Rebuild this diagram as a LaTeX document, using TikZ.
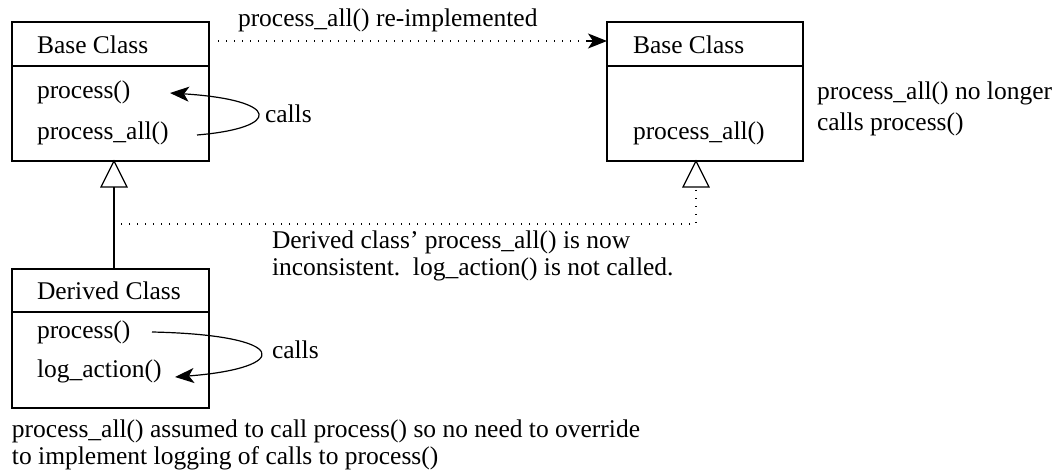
\documentclass[tikz,border=0pt]{standalone}
\usepackage{fontspec}
\setmainfont{Liberation Serif}
\usetikzlibrary{arrows.meta}
\begin{document}
\begin{tikzpicture}[x=1pt,y=-1pt,
  every node/.style={inner sep=0pt,outer sep=0pt,font=\fontsize{25.5}{30}\selectfont},
  txt/.style={anchor=base west},
  classbox/.style={draw,line width=1.2pt,minimum width=197pt,minimum height=139pt,anchor=north west},
  ln/.style={line width=1.2pt},
  dotline/.style={line width=1.4pt,dash pattern=on 1.4pt off 6.6pt},
  head/.style={-{Stealth[length=19pt,width=15pt,inset=5pt]}},
  tri/.style={draw,line width=1.2pt,fill=white}]
\useasboundingbox (0,0) rectangle (1052,470);
% Left base class
\node[classbox] (base1) at (12,22) {};
\draw[ln] (12,66) -- (209,66);
\node[txt] (b1t) at (37,54) {Base Class};
\node[txt] (b1p) at (37,99) {process()};
\node[txt] (b1pa) at (37,140) {process\_all()};
\coordinate (c1s) at (197,135);
\coordinate (c1e) at (170,93);
\draw[ln,head] (c1s) .. controls (282,128) and (282,100) .. (c1e);
\node[txt] (calls1) at (265,123) {calls};
% Right base class
\node[classbox,minimum width=196pt] (base2) at (607,22) {};
\draw[ln] (607,66) -- (803,66);
\node[txt] (b2t) at (633,54) {Base Class};
\node[txt] (b2pa) at (633,140) {process\_all()};
\node[txt] (note2a) at (817,100) {process\_all() no longer};
\node[txt] (note2b) at (817,131) {calls process()};
% top dotted arrow
\coordinate (ts) at (218,41);
\draw[dotline] (ts) -- (592,41);
\draw[ln,head] (586,41) -- (base2.west |- ts);
\node[txt] (reimp) at (238,27) {process\_all() re-implemented};
% Derived class
\node[classbox] (der) at (12,269) {};
\draw[ln] (12,312) -- (209,312);
\node[txt] (dt) at (37,300) {Derived Class};
\node[txt] (dp) at (37,338) {process()};
\node[txt] (dl) at (37,377) {log\_action()};
\coordinate (c2s) at (152,332);
\coordinate (c2e) at (175,377);
\draw[ln,head] (c2s) .. controls (292,335) and (292,368) .. (c2e);
\node[txt] (calls2) at (272,358) {calls};
% inheritance
\draw[ln] (114,187) -- (114,269);
\draw[tri] (114,161) -- (101,187) -- (127,187) -- cycle;
\draw[dotline] (696,190) -- (696,224) -- (121,224);
\draw[tri] (696,161) -- (683,187) -- (709,187) -- cycle;
\node[txt] (incon1) at (272,249) {Derived class’ process\_all() is now};
\node[txt] (incon2) at (272,276) {inconsistent.\ \ log\_action() is not called.};
\node[txt] (bot1) at (12,437) {process\_all() assumed to call process() so no need to override};
\node[txt] (bot2) at (12,464) {to implement logging of calls to process()};
\end{tikzpicture}
\end{document}
